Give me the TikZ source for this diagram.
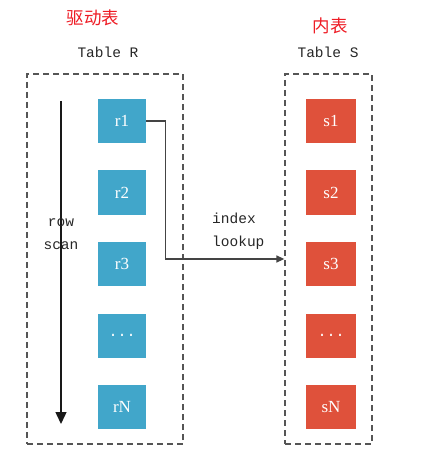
\documentclass[tikz,border=0pt]{standalone}
\usepackage{fontspec}
\setmainfont{Liberation Serif}
\setmonofont{Liberation Mono}
\newfontfamily\cjk{Noto Sans CJK SC}
\usetikzlibrary{arrows.meta}
\definecolor{rblue}{HTML}{41A6CA}
\definecolor{sred}{HTML}{DF513B}
\definecolor{titlered}{HTML}{EE1C25}
\definecolor{dashgray}{HTML}{555555}
\definecolor{linegray}{HTML}{444444}
\tikzset{
  rowbox/.style={minimum width=48pt, minimum height=44pt, inner sep=0pt, text=white, font=\fontsize{17}{19}\selectfont},
  rbox/.style={rowbox, fill=rblue},
  sbox/.style={rowbox, fill=sred, minimum width=50pt},
  tablebox/.style={draw=dashgray, line width=1.3pt, dash pattern=on 6pt off 4pt, inner sep=0pt},
  monolabel/.style={font=\ttfamily\fontsize{14.5}{23}\selectfont, text=black!85, inner sep=0pt},
  cjktitle/.style={font=\cjk\fontsize{17.5}{20}\selectfont, text=titlered, inner sep=0pt},
  conn/.style={draw=linegray, line width=1.4pt}
}
\newcommand{\rowdots}{{\ttfamily\fontsize{15}{17}\selectfont ...}}
\begin{document}
\begin{tikzpicture}[x=1pt,y=-1pt]
\useasboundingbox (0,0) rectangle (426,454);
% dashed table frames
\node[tablebox, minimum width=156pt, minimum height=370pt] (TR) at (105,259) {};
\node[tablebox, minimum width=87pt, minimum height=370pt] (TS) at (328.5,259) {};
% titles
\node[cjktitle] (t1) at (93,18) {驱动表};
\node[cjktitle] (t2) at (330,26) {内表};
\node[monolabel] (tr) at (108,52) {Table R};
\node[monolabel] (ts) at (328,52) {Table S};
% rows of R
\node[rbox] (r1) at (122,121) {r1};
\node[rbox] (r2) at (122,192.5) {r2};
\node[rbox] (r3) at (122,264) {r3};
\node[rbox] (r4) at (122,335.5) {\rowdots};
\node[rbox] (rN) at (122,407) {rN};
% rows of S
\node[sbox] (s1) at (331,121) {s1};
\node[sbox] (s2) at (331,192.5) {s2};
\node[sbox] (s3) at (331,264) {s3};
\node[sbox] (s4) at (331,335.5) {\rowdots};
\node[sbox] (sN) at (331,407) {sN};
% row scan arrow
\coordinate (scanTop) at (61,101);
\coordinate (scanEnd) at (61,424);
\draw[line width=1.4pt, draw=black!90, -{Triangle[length=12pt,width=11pt]}] (scanTop) -- (scanEnd);
\node[monolabel, align=center] (rs) at (61,234) {row\\scan};
% index lookup connector
\coordinate (lookEnd) at (TS.west |- 0,259);
\draw[conn, -{Triangle[length=8pt,width=7pt]}] (r1.east) -- ++(19,0) |- (lookEnd);
\node[monolabel, align=left, anchor=west] (il) at (212,231) {index\\lookup};
\end{tikzpicture}
\end{document}
